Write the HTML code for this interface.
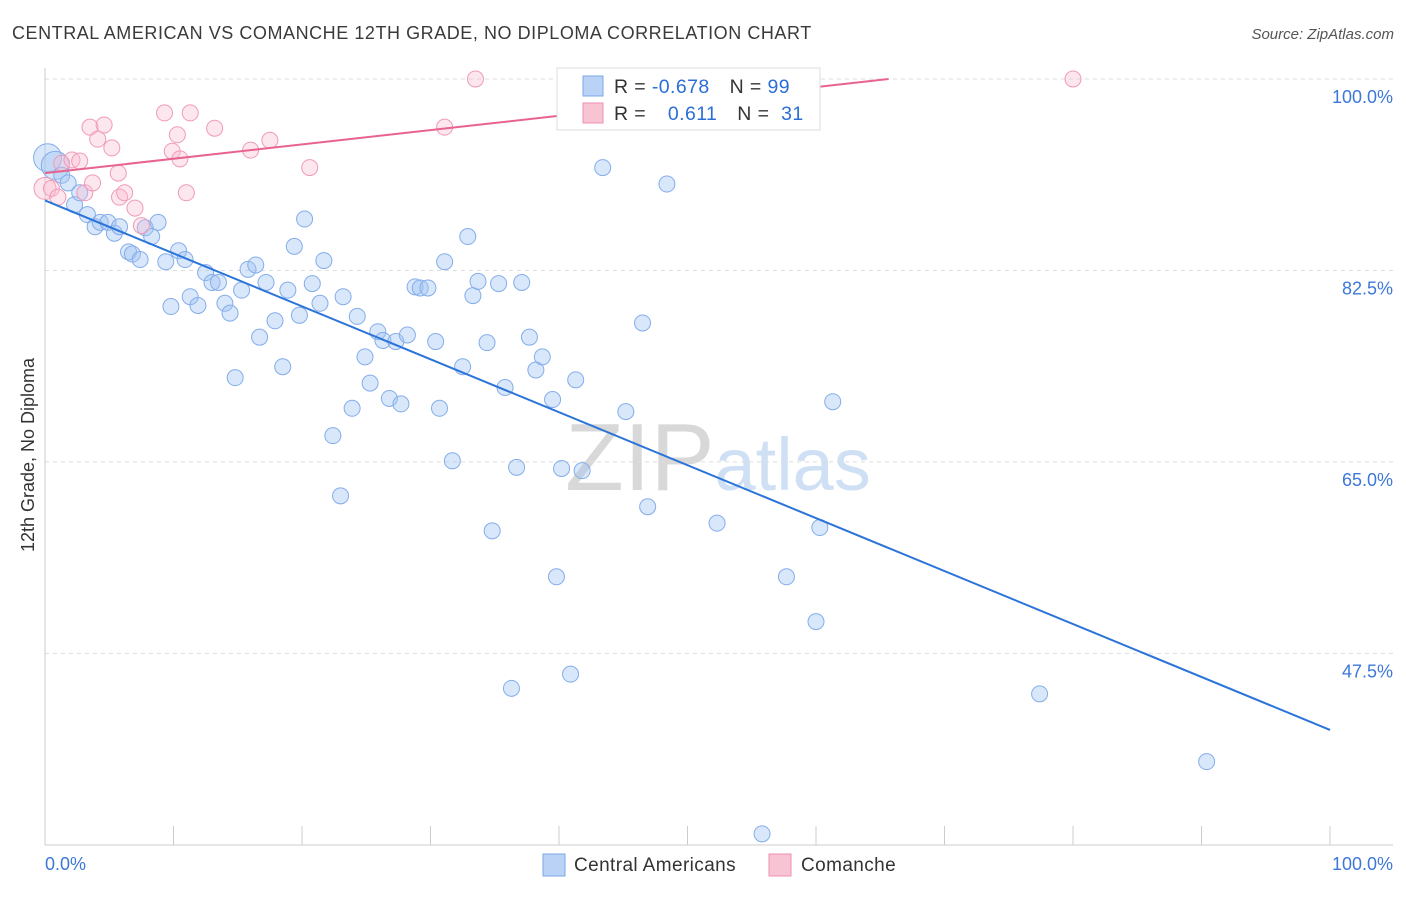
<!DOCTYPE html>
<html><head><meta charset="utf-8"><style>
body{margin:0;background:#fff;font-family:"Liberation Sans",sans-serif;}
svg text{font-family:"Liberation Sans",sans-serif;}
</style></head><body>
<svg id="chart" width="1406" height="892" viewBox="0 0 1406 892" xmlns="http://www.w3.org/2000/svg">
<text x="12" y="39" font-size="18" letter-spacing="0.55" fill="#3a3a3a">CENTRAL AMERICAN VS COMANCHE 12TH GRADE, NO DIPLOMA CORRELATION CHART</text>
<text x="1394" y="39" font-size="15" fill="#555" text-anchor="end" font-style="italic">Source: ZipAtlas.com</text>
<text x="718" y="490" font-size="96" fill="#dde3ea" text-anchor="middle" font-family="Liberation Serif"><tspan fill="#d8d8d8">ZIP</tspan><tspan fill="#cfe0f5" font-family="Liberation Sans" font-size="74">atlas</tspan></text>
<g id="grid"></g>
<g id="axes"></g>
<g id="pts"></g>
<g id="lines"></g>
<text transform="translate(34,455) rotate(-90)" font-size="18" fill="#333" text-anchor="middle">12th Grade, No Diploma</text>
<g>
<rect x="557" y="68" width="263" height="62" fill="#fff" stroke="#ddd"/>
<rect x="583" y="76" width="20" height="20" fill="#b9d2f5" stroke="#7aa7e6"/>
<rect x="583" y="103" width="20" height="20" fill="#f8c4d4" stroke="#ee8fb0"/>
<text x="614" y="93" font-size="19.5" letter-spacing="0.4" fill="#333">R = <tspan fill="#2b6fd6">-0.678</tspan><tspan dx="20">N = </tspan><tspan fill="#2b6fd6">99</tspan></text>
<text x="614" y="120" font-size="19.5" letter-spacing="0.4" fill="#333">R = <tspan fill="#2b6fd6" dx="16">0.611</tspan><tspan dx="20">N = </tspan><tspan fill="#2b6fd6" dx="6">31</tspan></text>
</g>
<g>
<rect x="543" y="854" width="22" height="22" fill="#b9d2f5" stroke="#7aa7e6"/>
<text x="574" y="871" font-size="19" letter-spacing="0.4" fill="#333">Central Americans</text>
<rect x="769" y="854" width="22" height="22" fill="#f8c4d4" stroke="#ee8fb0"/>
<text x="801" y="871" font-size="19" letter-spacing="0.4" fill="#333">Comanche</text>
</g>
</svg>
<script>
const yTicks=[100,82.5,65,47.5];
const xTickLabels=["0.0%","100.0%"];
const blueX=[0.2,0.8,1.3,1.8,2.3,2.7,3.3,3.9,4.3,4.9,5.4,5.8,6.5,6.8,7.4,7.8,8.3,8.8,9.4,9.8,10.4,10.9,11.3,11.9,12.5,13.0,13.5,14.0,14.4,14.8,15.3,15.8,16.4,16.7,17.2,17.9,18.5,18.9,19.4,19.8,20.2,20.8,21.4,21.7,22.4,23.0,23.2,23.9,24.3,24.9,25.3,25.9,26.3,26.8,27.3,27.7,28.2,28.8,29.2,29.8,30.4,30.7,31.1,31.7,32.5,32.9,33.3,33.7,34.4,34.8,35.3,35.8,36.3,36.7,37.1,37.7,38.2,38.7,39.5,39.8,40.2,40.9,41.3,41.8,43.4,45.2,46.5,46.9,48.4,49.1,52.3,55.8,57.7,60.0,60.3,61.3,77.4,90.4];
const blueY=[92.8,92.1,91.2,90.5,88.5,89.6,87.6,86.5,86.9,86.9,85.9,86.5,84.2,84.0,83.5,86.4,85.6,86.9,83.3,79.2,84.3,83.5,80.1,79.3,82.3,81.4,81.4,79.5,78.6,72.7,80.7,82.6,83.0,76.4,81.4,77.9,73.7,80.7,84.7,78.4,87.2,81.3,79.5,83.4,67.4,61.9,80.1,69.9,78.3,74.6,72.2,76.9,76.1,70.8,76.0,70.3,76.6,81.0,80.9,80.9,76.0,69.9,83.3,65.1,73.7,85.6,80.2,81.5,75.9,58.7,81.3,71.8,44.3,64.5,81.4,76.4,73.4,74.6,70.7,54.5,64.4,45.6,72.5,64.2,91.9,69.6,77.7,60.9,90.4,100,59.4,31.0,54.5,50.4,59.0,70.5,43.8,37.6];
const pinkX=[0,0.5,1.0,1.3,2.1,2.7,3.1,3.5,3.7,4.1,4.6,5.2,5.7,5.8,6.2,7.0,7.5,9.3,9.9,10.3,10.5,11.0,11.3,13.2,16.0,17.5,20.6,31.1,33.5,80.0];
const pinkY=[90.0,90.0,89.2,92.3,92.6,92.5,89.6,95.6,90.5,94.5,95.8,93.7,91.4,89.2,89.6,88.2,86.6,96.9,93.4,94.9,92.7,89.6,96.9,95.5,93.5,94.4,91.9,95.6,100,100];
const blueTrend=[88.9,40.5];
const pinkTrend=[91.4,104.5];
const NS='http://www.w3.org/2000/svg';
const X0=45,X1=1330,YTOP=79,PER=10.94;
function sx(v){return X0+(X1-X0)*v/100;}
function sy(v){return YTOP+(100-v)*PER;}
function mk(tag,attrs,parent){const e=document.createElementNS(NS,tag);for(const k in attrs)e.setAttribute(k,attrs[k]);parent.appendChild(e);return e;}
const grid=document.getElementById('grid'),axes=document.getElementById('axes');
yTicks.forEach(t=>{
 const l=mk('line',{x1:45,x2:1393,y1:sy(t),y2:sy(t),stroke:'#ddd','stroke-dasharray':'4,4'},grid);
 
 
 const tx=mk('text',{x:1393,y:sy(t)+24,'font-size':18,fill:'#3d78d8','text-anchor':'end'},axes);
 tx.textContent=t.toFixed(1)+'%';
 
 
});
mk('line',{x1:45,x2:45,y1:68,y2:845,stroke:'#ccc'},axes);
mk('line',{x1:45,x2:1393,y1:845,y2:845,stroke:'#ccc'},axes);
for(let i=0;i<=10;i++){const t=mk('line',{x1:sx(i*10),x2:sx(i*10),y1:826,y2:845,stroke:'#ccc'},axes);}
const xl0=mk('text',{x:45,y:870,'font-size':18,fill:'#3d78d8'},axes);xl0.textContent=xTickLabels[0];


const xl1=mk('text',{x:1393,y:870,'font-size':18,fill:'#3d78d8','text-anchor':'end'},axes);xl1.textContent=xTickLabels[1];


const pts=document.getElementById('pts');
blueX.forEach((x,i)=>{const c=mk('circle',{cx:sx(x),cy:sy(blueY[i]),r:i<2?14:8,fill:'rgba(160,195,242,0.4)',stroke:'#84adea','stroke-width':1},pts);
 
 });
pinkX.forEach((x,i)=>{const c=mk('circle',{cx:sx(x),cy:sy(pinkY[i]),r:i<1?11:8,fill:'rgba(248,185,205,0.35)',stroke:'#f09ab8','stroke-width':1},pts);
 
 });
const lines=document.getElementById('lines');
const bl=mk('line',{x1:sx(0),y1:sy(blueTrend[0]),x2:sx(100),y2:sy(blueTrend[1]),stroke:'#2b74d9','stroke-width':2},lines);


const slope=(pinkTrend[1]-pinkTrend[0])/100;const xe=(100-pinkTrend[0])/slope;
const pl=mk('line',{x1:sx(0),y1:sy(pinkTrend[0]),x2:sx(xe),y2:sy(100),stroke:'#e8638e','stroke-width':2},lines);


</script>
</body></html>
